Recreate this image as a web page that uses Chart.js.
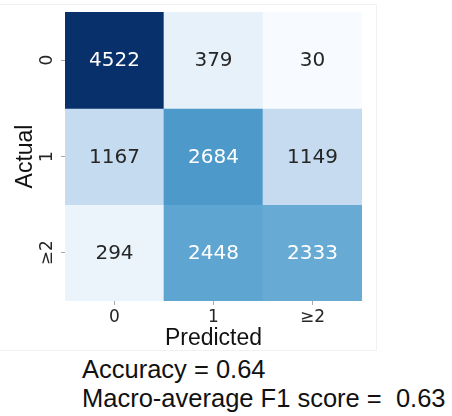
<!DOCTYPE html>
<html>
<head>
<meta charset="utf-8">
<script src="https://cdn.jsdelivr.net/npm/chart.js@4"></script>
<style>
  body { margin: 0; background: #fff; }
  #wrap { position: relative; width: 452px; height: 416px; overflow: hidden; }
  #box { position: absolute; left: 0; top: 0; width: 452px; height: 352px; }
  #frame { position: absolute; left: -1px; top: 4px; width: 377px; height: 345px;
           border: 1px solid #f1f1f1; border-left: none; }
  #stats { position: absolute; left: 82px; top: 355px; font-family: "Liberation Sans", Arial, sans-serif;
           font-size: 25.5px; line-height: 29px; color: #111; white-space: pre; }
</style>
</head>
<body>
<div id="wrap">
  <div id="frame"></div>
  <div id="box"><canvas id="cmChart"></canvas></div>
  <div id="stats"><div id="accLine"></div><div id="f1Line"></div></div>
</div>
<script>
// confusion matrix, one array per actual class
const predictedLabels = ['0', '1', '≥2'];
const actualLabels = ['0', '1', '≥2'];
const actual0 = [4522, 379, 30];
const actual1 = [1167, 2684, 1149];
const actual2 = [294, 2448, 2333];
const accuracy = 0.64;
const macroF1 = 0.63;

const rows = [actual0, actual1, actual2];

// matplotlib "Blues"
const blues = [
    [247, 251, 255], [222, 235, 247], [198, 219, 239], [158, 202, 225], [107, 174, 214],
    [66, 146, 198], [33, 113, 181], [8, 81, 156], [8, 48, 107]
];
const allVals = rows.flat();
const vmin = Math.min(...allVals);
const vmax = Math.max(...allVals);

function bluesRgb(v) {
    let t = (v - vmin) / (vmax - vmin);
    t = Math.max(0, Math.min(1, t)) * (blues.length - 1);
    const i = Math.min(Math.floor(t), blues.length - 2);
    const f = t - i;
    return blues[i].map((c, k) => Math.round(c + (blues[i + 1][k] - c) * f));
}

function cellColor(v) {
    const c = bluesRgb(v);
    return `rgb(${c[0]}, ${c[1]}, ${c[2]})`;
}

// same rule seaborn uses for annotation colour
function textColor(v) {
    const lum = bluesRgb(v).map(c => {
        c = c / 255;
        return c <= 0.03928 ? c / 12.92 : Math.pow((c + 0.055) / 1.055, 2.4);
    });
    const l = 0.2126 * lum[0] + 0.7152 * lum[1] + 0.0722 * lum[2];
    return l > 0.408 ? '#262626' : '#ffffff';
}

const cellText = {
    id: 'cellText',
    afterDatasetsDraw(chart) {
        const ctx = chart.ctx;
        ctx.save();
        ctx.font = '20px "DejaVu Sans"';
        ctx.textAlign = 'center';
        ctx.textBaseline = 'middle';
        chart.data.datasets.forEach((ds, r) => {
            chart.getDatasetMeta(r).data.forEach((bar, c) => {
                const v = ds.counts[c];
                const p = bar.getCenterPoint();
                ctx.fillStyle = textColor(v);
                ctx.fillText(String(v), p.x, p.y + 1);
            });
        });
        ctx.restore();
    }
};

const datasets = rows.map((row, r) => ({
    label: 'Actual ' + actualLabels[r],
    counts: row,
    data: row.map(() => [r, r + 1]),
    backgroundColor: row.map(cellColor),
    borderWidth: 0,
    barPercentage: 1,
    categoryPercentage: 1,
    grouped: false
}));

const ctx = document.getElementById('cmChart').getContext('2d');
new Chart(ctx, {
    type: 'bar',
    data: { labels: predictedLabels, datasets: datasets },
    options: {
        responsive: true,
        maintainAspectRatio: false,
        animation: false,
        layout: { padding: { left: 0, right: 90, top: 12, bottom: 0 } },
        plugins: { legend: { display: false }, tooltip: { enabled: false } },
        scales: {
            x: {
                afterFit: (scale) => { scale.height = 51; },
                grid: { display: true, drawOnChartArea: false, drawTicks: true, offset: false,
                        tickLength: 4, color: '#aaaaaa' },
                border: { display: false },
                ticks: { padding: 2, color: '#262626', font: { family: 'DejaVu Sans', size: 17 } },
                title: { display: true, text: 'Predicted', color: '#111', padding: { top: 0, bottom: 0 },
                         font: { family: 'Liberation Sans', size: 23 } }
            },
            y: {
                min: 0,
                max: 3,
                reverse: true,
                afterFit: (scale) => { scale.width = 65; },
                afterBuildTicks: (scale) => {
                    scale.ticks = actualLabels.map((l, i) => ({ value: i + 0.5 }));
                },
                grid: { display: true, drawOnChartArea: false, drawTicks: true,
                        tickLength: 4, color: '#aaaaaa' },
                border: { display: false },
                ticks: {
                    padding: 1,
                    minRotation: 90,
                    maxRotation: 90,
                    crossAlign: 'center',
                    color: '#262626',
                    font: { family: 'DejaVu Sans', size: 17 },
                    callback: (v, i) => actualLabels[i]
                },
                title: { display: true, text: 'Actual', color: '#111', padding: { top: 12, bottom: 0 },
                         font: { family: 'Liberation Sans', size: 23 } }
            }
        }
    },
    plugins: [cellText]
});

document.getElementById('accLine').textContent = 'Accuracy = ' + accuracy.toFixed(2);
document.getElementById('f1Line').textContent = 'Macro-average F1 score =  ' + macroF1.toFixed(2);
</script>
</body>
</html>
